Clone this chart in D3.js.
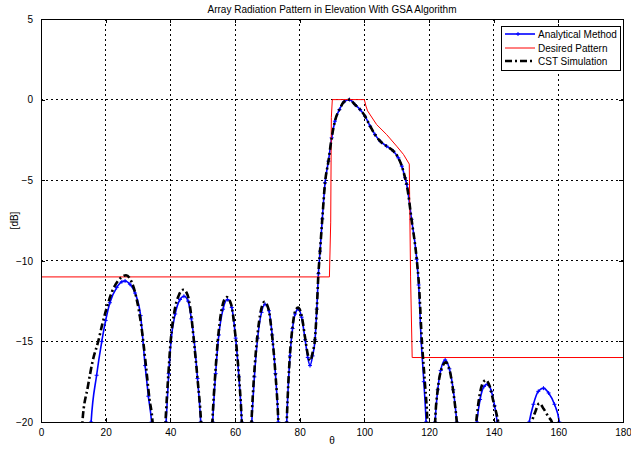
<!DOCTYPE html>
<html>
<head>
<meta charset="utf-8">
<script src="https://cdn.jsdelivr.net/npm/d3@7"></script>
<style>
    body { margin: 0; background: #fff; }
    text { font-family: "Liberation Sans", Arial, sans-serif; font-size: 10px; fill: #000; }
</style>
</head>
<body>
<div id="chart"></div>
<script>
// Tick values
const xTicks = [0, 20, 40, 60, 80, 100, 120, 140, 160, 180];
const yTicks = [5, 0, -5, -10, -15, -20];

// Series: [theta (deg), level (dB)]
const analyticalData = [
    [13.5, -30], [15.5, -20], [17.2, -17.1], [18.8, -15], [20, -13.7], [21.3, -12.6], [23.4, -11.66],
    [25, -11.3], [26, -11.25], [27.5, -11.45], [29.1, -12.0], [30.8, -13.4], [32.2, -16.5], [33.2, -18.4], [34.2, -20],
    [36.4, -30],
    [38.7, -20], [39.5, -17], [40.2, -15], [41.5, -13.3], [43, -12.4], [44.2, -12.2], [45.5, -12.5],
    [46.5, -13.6], [47.4, -15], [48.4, -17.3], [49.4, -20],
    [51.3, -30],
    [53.1, -20], [54, -17], [55, -14.6], [56.3, -13], [57.7, -12.4], [59, -12.9], [60.2, -14.8], [61.2, -17.2], [62.1, -20],
    [63.6, -30],
    [65.2, -20], [66, -17.2], [67, -14.8], [68.2, -13.2], [69.3, -12.7], [70.5, -13.1], [71.5, -14.6], [72.5, -17], [73.4, -20],
    [74.7, -30],
    [76.0, -20], [77, -15.9], [77.8, -14.2], [78.6, -13.3], [79.6, -13.0], [80.6, -13.5], [81.7, -14.9], [82.5, -16],
    [83.2, -16.5], [84, -15.9], [84.75, -14.9], [85.3, -13], [85.8, -10.8], [86.3, -9.4], [87, -7.4], [87.85, -5.16],
    [88.9, -3.82], [89.9, -2.37], [90.9, -1.34], [92.3, -0.62], [93.7, -0.14], [95.4, 0], [97.1, -0.31], [98.7, -0.62],
    [100.2, -1.03], [101.8, -1.65], [103.3, -2.17], [104.9, -2.58], [106.9, -2.89], [109, -3.2], [110.5, -3.61],
    [111.6, -4.13], [112.6, -4.85], [113.1, -5.26], [114.6, -7.43], [116.2, -9.9], [116.8, -11.5], [117.6, -15],
    [118.4, -17.5], [119.1, -20],
    [120.5, -30],
    [121.9, -20], [122.7, -18], [123.6, -16.8], [125, -16.15], [126.3, -16.7], [127.5, -18], [128.6, -20],
    [131.7, -30],
    [134.8, -20], [135.8, -18.6], [137, -17.8], [138.1, -17.65], [139.3, -18.1], [140.3, -19], [141.1, -20],
    [146, -30],
    [151, -20], [152.3, -18.9], [153.8, -18.1], [155.4, -17.9], [157, -18.2], [158.8, -18.9], [160.3, -20], [162, -30]
];

const desiredData = [
    [0, -11], [89.2, -11], [89.6, -7.6], [89.8, -1.1], [90.1, 0], [100, 0], [100.5, -0.4], [101, -0.7],
    [103.8, -1.55], [106.9, -2.17], [110, -2.89], [112.1, -3.4], [113.9, -4], [114.3, -11], [114.8, -16], [180, -16]
];

const cstData = [
    [11, -30], [12.8, -20], [14.5, -17.8], [16, -16.2], [17.7, -15], [19, -13.9], [20.5, -12.8], [22, -11.9],
    [24, -11.2], [26.3, -10.9], [28, -11.3], [29.5, -12.3], [31, -14], [32.5, -16.6], [33.5, -18.5], [34.5, -20],
    [36.5, -30],
    [38.5, -20], [39.4, -17], [40.1, -15], [41.3, -13.1], [42.7, -12.1], [44, -11.8], [45.3, -12.1], [46.4, -13.3],
    [47.3, -15], [48.4, -17.3], [49.5, -20],
    [51.3, -30],
    [53.0, -20], [53.9, -17], [54.9, -14.5], [56.1, -12.8], [57.4, -12.25], [58.8, -12.7], [60.1, -14.6], [61.2, -17.1], [62.1, -20],
    [63.6, -30],
    [65.1, -20], [65.9, -17.1], [66.9, -14.7], [68, -13.1], [69.1, -12.55], [70.3, -12.95], [71.4, -14.5], [72.5, -17], [73.4, -20],
    [74.7, -30],
    [76.0, -20], [77, -15.8], [77.8, -14.1], [78.5, -13.2], [79.5, -12.9], [80.6, -13.4], [81.7, -14.8], [82.5, -15.8],
    [83.3, -16.2], [84, -15.7], [84.75, -14.8], [85.3, -13], [85.8, -10.8], [86.3, -9.4], [87, -7.4], [87.85, -5.16],
    [88.9, -3.82], [89.9, -2.37], [90.9, -1.34], [92.3, -0.62], [93.7, -0.14], [95.4, 0], [97.1, -0.31], [98.7, -0.62],
    [100.2, -1.03], [101.8, -1.65], [103.3, -2.17], [104.9, -2.58], [106.9, -2.89], [109, -3.2], [110.5, -3.61],
    [111.6, -4.13], [112.6, -4.85], [113.1, -5.26], [114.6, -7.43], [116.2, -9.9], [116.9, -11.5], [117.8, -15],
    [118.7, -17.5], [119.5, -20],
    [120.7, -30],
    [121.9, -20], [122.7, -18], [123.6, -16.9], [125.2, -16.3], [126.4, -16.8], [127.5, -18.1], [128.6, -20],
    [131.7, -30],
    [134.6, -20], [135.6, -18.4], [136.6, -17.6], [137.6, -17.4], [138.8, -17.8], [140, -18.8], [141.4, -20],
    [146, -30],
    [151.8, -20], [153, -19.3], [154.1, -18.85], [155.5, -19.2], [157, -19.7], [158, -20], [160, -30]
];

const legendItems = ["Analytical Method", "Desired Pattern", "CST Simulation"];

// Layout
const width = 631, height = 449;
const margin = { top: 19, right: 8, bottom: 27, left: 41 };
const innerW = width - margin.left - margin.right;
const innerH = height - margin.top - margin.bottom;

const svg = d3.select("#chart").append("svg")
    .attr("width", width)
    .attr("height", height);

svg.append("rect").attr("width", width).attr("height", height).attr("fill", "#fff");

const g = svg.append("g")
    .attr("transform", `translate(${margin.left},${margin.top})`);

const x = d3.scaleLinear().domain([0, 180]).range([0, innerW]);
const y = d3.scaleLinear().domain([-20, 5]).range([innerH, 0]);

// Grid (dotted)
g.append("g").selectAll("line")
    .data(xTicks.slice(1, -1))
    .enter().append("line")
    .attr("x1", d => x(d)).attr("x2", d => x(d))
    .attr("y1", 0).attr("y2", innerH)
    .attr("stroke", "#000").attr("stroke-width", 1)
    .attr("stroke-dasharray", "2,3")
    .attr("shape-rendering", "crispEdges");

g.append("g").selectAll("line")
    .data(yTicks.slice(1, -1))
    .enter().append("line")
    .attr("x1", 0).attr("x2", innerW)
    .attr("y1", d => y(d)).attr("y2", d => y(d))
    .attr("stroke", "#000").attr("stroke-width", 1)
    .attr("stroke-dasharray", "2,3")
    .attr("shape-rendering", "crispEdges");

// Clip
svg.append("defs").append("clipPath").attr("id", "plot-clip")
    .append("rect").attr("width", innerW).attr("height", innerH);

const plot = g.append("g").attr("clip-path", "url(#plot-clip)");

const line = d3.line()
    .x(d => x(d[0]))
    .y(d => y(d[1]))
    .curve(d3.curveMonotoneX);

const straight = d3.line()
    .x(d => x(d[0]))
    .y(d => y(d[1]));

// Analytical method (blue with + markers)
plot.append("path")
    .datum(analyticalData)
    .attr("d", line)
    .attr("fill", "none")
    .attr("stroke", "#0000ff")
    .attr("stroke-width", 1.6);

plot.append("g").selectAll("path")
    .data(analyticalData.filter(d => d[1] >= -20))
    .enter().append("path")
    .attr("d", d => `M${x(d[0]) - 2},${y(d[1])}h4M${x(d[0])},${y(d[1]) - 2}v4`)
    .attr("stroke", "#0000ff")
    .attr("stroke-width", 1);

// Desired pattern (red)
plot.append("path")
    .datum(desiredData)
    .attr("d", straight)
    .attr("fill", "none")
    .attr("stroke", "#ff0000")
    .attr("stroke-width", 1);

// CST simulation (black dash-dot)
plot.append("path")
    .datum(cstData)
    .attr("d", line)
    .attr("fill", "none")
    .attr("stroke", "#000")
    .attr("stroke-width", 2.6)
    .attr("stroke-dasharray", "7,3,2,3");

// Axes box and inward ticks
g.append("rect")
    .attr("width", innerW).attr("height", innerH)
    .attr("fill", "none").attr("stroke", "#000").attr("stroke-width", 1)
    .attr("shape-rendering", "crispEdges");

const xAxis = g.append("g")
    .attr("transform", `translate(0,${innerH})`)
    .call(d3.axisBottom(x).tickValues(xTicks).tickSizeInner(-4).tickSizeOuter(0).tickPadding(8));
const yAxis = g.append("g")
    .call(d3.axisLeft(y).tickValues(yTicks).tickSizeInner(-4).tickSizeOuter(0).tickPadding(8));
g.append("g")
    .call(d3.axisTop(x).tickValues(xTicks).tickSizeInner(-4).tickSizeOuter(0).tickFormat(""));
g.append("g")
    .attr("transform", `translate(${innerW},0)`)
    .call(d3.axisRight(y).tickValues(yTicks).tickSizeInner(-4).tickSizeOuter(0).tickFormat(""));

g.selectAll(".domain").remove();
g.selectAll(".tick line").attr("stroke", "#000").attr("shape-rendering", "crispEdges");
g.selectAll(".tick text")
    .attr("font-family", "Liberation Sans, Arial, sans-serif")
    .attr("font-size", 10)
    .attr("fill", "#000");
xAxis.selectAll(".tick text").attr("dy", "0.6em");

// Title and labels
svg.append("text")
    .attr("x", margin.left + innerW / 2)
    .attr("y", 13)
    .attr("text-anchor", "middle")
    .text("Array Radiation Pattern in Elevation With GSA Algorithm");

svg.append("text")
    .attr("x", margin.left + innerW / 2)
    .attr("y", 444)
    .attr("text-anchor", "middle")
    .text("θ");

svg.append("text")
    .attr("transform", `translate(18,${margin.top + innerH / 2}) rotate(-90)`)
    .attr("text-anchor", "middle")
    .text("[dB]");

// Legend
const legend = svg.append("g").attr("transform", "translate(501,26)");
legend.append("rect")
    .attr("width", 119).attr("height", 44)
    .attr("fill", "#fff").attr("stroke", "#000").attr("stroke-width", 1)
    .attr("shape-rendering", "crispEdges");

const rowY = [8, 22, 35];
const sampleStyles = [
    { stroke: "#0000ff", width: 1.6, dash: null },
    { stroke: "#ff0000", width: 1, dash: null },
    { stroke: "#000", width: 2.6, dash: "7,3,2,3" }
];

legendItems.forEach((label, i) => {
    const s = sampleStyles[i];
    legend.append("line")
        .attr("x1", 4).attr("x2", 34)
        .attr("y1", rowY[i]).attr("y2", rowY[i])
        .attr("stroke", s.stroke).attr("stroke-width", s.width)
        .attr("stroke-dasharray", s.dash);
    if (i === 0) {
        legend.append("path")
            .attr("d", `M17,${rowY[i] - 2}v4M15,${rowY[i]}h4`)
            .attr("stroke", "#0000ff");
    }
    legend.append("text")
        .attr("x", 37)
        .attr("y", rowY[i] + 3.5)
        .text(label);
});
</script>
</body>
</html>
